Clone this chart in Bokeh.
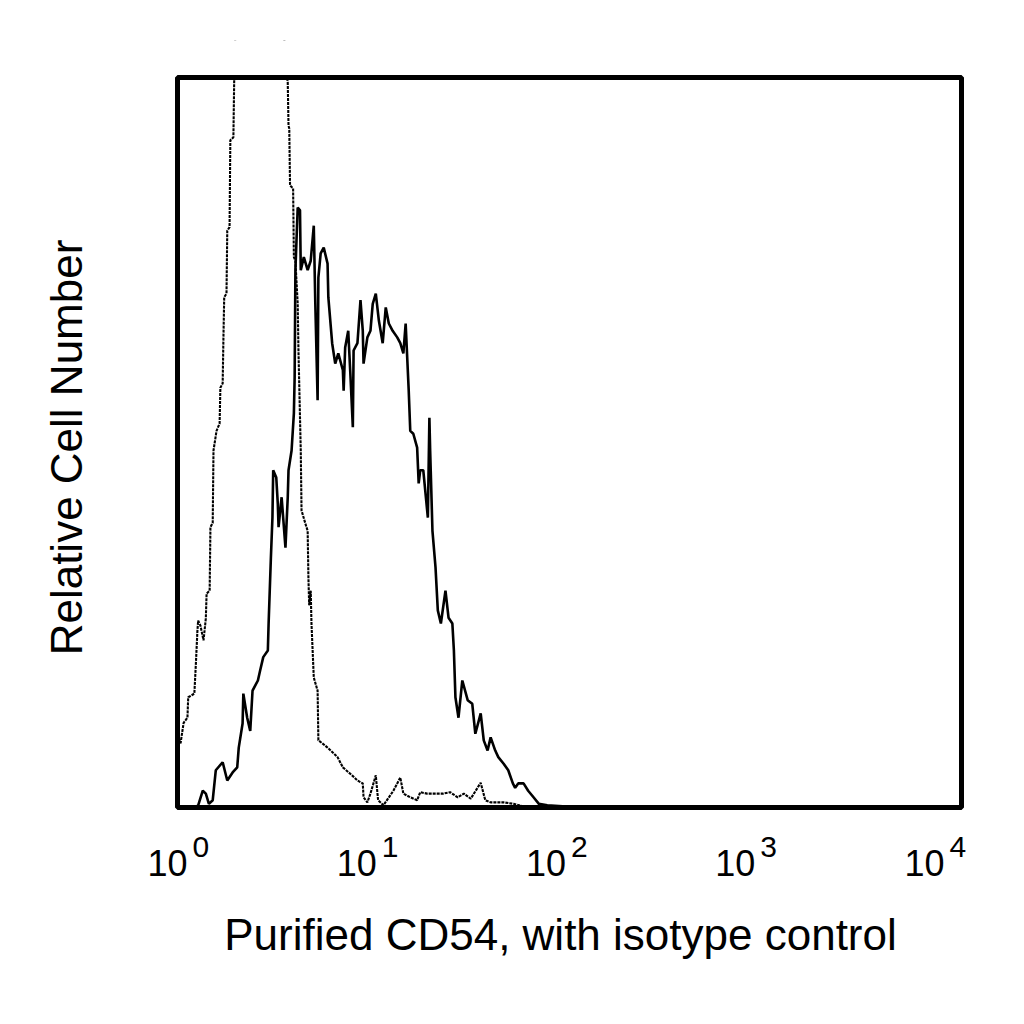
import numpy as np
from bokeh.plotting import figure
from bokeh.models import Range1d, BoxAnnotation
from bokeh.core.properties import value
from bokeh.embed import file_html
from bokeh.resources import INLINE

# histogram data: channel (0-1023 across the plot box) and relative count
isotype_channel = [0, 4, 8, 13, 14, 22, 24, 26, 27, 30, 34, 37, 38, 42, 43, 46, 47, 51, 55, 56,
                   59, 60, 61, 64, 65, 68, 69, 73, 74, 77, 85, 100, 120, 135, 141, 144, 145, 146,
                   147, 151, 152, 154, 157, 158, 161, 162, 167, 170, 171, 172, 174, 175, 178, 183,
                   184, 189, 196, 204, 209, 216, 228, 235, 242, 243, 248, 252, 259, 262, 269, 282,
                   291, 295, 304, 313, 317, 326, 340, 347, 356, 366, 374, 383, 396, 402, 409, 426,
                   439, 454, 474]
isotype_count = [9.9, 8.8, 11.6, 12.3, 15.1, 15.6, 19.7, 24.2, 25.6, 24.9, 22.9, 25.9, 29.3, 29.7,
                 38.4, 39.0, 48.9, 51.6, 52.6, 57.5, 58.1, 64.4, 69.9, 70.4, 79.0, 79.5, 91.4, 91.8,
                 99.3, 112, 125, 135, 132, 115, 102, 99.3, 93.4, 93.0, 85.2, 84.8, 75.4, 74.9, 69.0,
                 62.6, 48.9, 40.7, 38.9, 37.9, 31.5, 27.7, 29.7, 25.2, 17.8, 16.0, 9.2, 8.8, 8.2,
                 7.4, 6.9, 5.5, 4.4, 3.7, 3.3, 1.4, 0.7, 1.9, 4.4, 1.0, 0.3, 2.3, 4.1, 1.9, 1.4,
                 1.0, 2.1, 1.9, 1.9, 1.9, 2.1, 1.4, 1.9, 1.2, 3.4, 1.0, 0.7, 0.7, 0.5, 0.1, 0.0]

cd54_channel = [0, 24, 27, 33, 37, 41, 46, 50, 59, 65, 72, 78, 80, 85, 86, 91, 95, 98, 105, 108,
                112, 118, 119, 122, 124, 125, 129, 131, 132, 136, 141, 144, 145, 149, 152, 153,
                154, 157, 160, 161, 165, 170, 174, 178, 180, 183, 184, 187, 191, 196, 197, 202,
                206, 210, 216, 217, 219, 223, 226, 229, 230, 235, 239, 242, 243, 248, 252, 255,
                259, 263, 268, 272, 276, 281, 287, 291, 295, 298, 300, 302, 304, 308, 313, 315,
                317, 321, 327, 329, 330, 333, 337, 340, 344, 350, 354, 359, 361, 363, 367, 372,
                379, 385, 389, 396, 400, 405, 409, 415, 419, 426, 432, 438, 441, 445, 452, 458,
                465, 472, 483, 513, 552, 618, 1024]
cd54_count = [0.0, 0.1, 0.3, 2.3, 1.9, 0.5, 1.0, 5.1, 6.2, 3.7, 4.8, 5.5, 8.2, 11.5, 15.6, 12.3,
              10.5, 16.0, 17.4, 18.8, 20.6, 21.5, 25.2, 34.3, 39.7, 46.2, 45.2, 41.6, 38.4, 42.5,
              35.6, 42.5, 46.2, 48.9, 54.0, 58.9, 73.6, 82.2, 81.8, 73.6, 75.4, 73.6, 74.9, 79.7,
              69.0, 55.8, 72.6, 75.9, 76.7, 74.5, 69.9, 63.6, 60.8, 62.2, 59.9, 57.1, 63.0, 65.3,
              58.9, 52.1, 62.6, 63.6, 69.5, 65.3, 60.8, 64.4, 65.3, 69.0, 70.4, 66.7, 63.6, 68.5,
              66.3, 65.3, 64.4, 63.6, 62.2, 66.3, 61.7, 57.1, 51.6, 51.2, 49.3, 44.4, 46.2, 46.2,
              39.7, 53.4, 48.9, 37.9, 32.9, 27.0, 25.2, 29.7, 26.0, 25.2, 21.5, 15.1, 12.3, 17.4,
              14.7, 14.2, 10.1, 12.9, 9.2, 7.8, 9.6, 7.8, 6.9, 6.0, 5.1, 3.3, 2.7, 3.3, 3.3, 2.3,
              1.4, 0.5, 0.3, 0.1, 0.1, 0.0, 0.0]

# channel -> intensity calibration
CH_ZERO = 6.5
CH_PER_DECADE = 247.2
N_CHANNELS = 1024

decades = [0, 1, 2, 3, 4]
tick_base = ["10", "10", "10", "10", "10"]
tick_power = ["0", "1", "2", "3", "4"]
x_title = "Purified CD54, with isotype control"
y_title = "Relative Cell Number"

FONT = "Liberation Sans"
W = H = 1000
TOP_PAD = 40
# box of the histogram on the canvas (pixels)
BOX_L, BOX_R, BOX_T, BOX_B = 177, 961, 77, 807
Y_MAX = 100.0
ppc = (BOX_R - BOX_L) / N_CHANNELS      # pixels per channel
ppu = (BOX_B - BOX_T) / Y_MAX           # pixels per count unit


def to_intensity(ch):
    return 10 ** ((np.asarray(ch, dtype=float) - CH_ZERO) / CH_PER_DECADE)


def xd(px):
    return to_intensity((px - BOX_L) / ppc)


def yd(py):
    return (BOX_B - py) / ppu


X_MIN, X_MAX = to_intensity(0), to_intensity(N_CHANNELS)

# the frame spans (nearly) the whole canvas so the tick labels and titles can be drawn as text
p = figure(width=W, height=H, x_axis_type="log",
           x_range=Range1d(xd(0), xd(W)), y_range=Range1d(yd(H), yd(TOP_PAD)),
           x_axis_location=None, y_axis_location=None,
           output_backend="svg", toolbar_location=None, tools="",
           min_border=0, min_border_top=TOP_PAD)
p.outline_line_color = None
p.grid.grid_line_color = None
p.background_fill_color = "white"
p.border_fill_color = "white"

p.line(to_intensity(isotype_channel), isotype_count, line_color="black",
       line_width=2.1, line_dash="3 1")
p.line(to_intensity(cd54_channel), cd54_count, line_color="black", line_width=2.6)

# off-scale counts are cut at the top of the box (white quad drawn over the curves)
p.quad(left=[X_MIN], right=[X_MAX], bottom=[Y_MAX], top=[yd(0)],
       fill_color="white", line_color="white", line_width=2)
p.add_layout(BoxAnnotation(left=X_MIN, right=X_MAX, bottom=0, top=Y_MAX, fill_alpha=0,
                           line_color="black", line_width=5, line_alpha=1.0))

# log tick labels: 10 with a raised exponent
tick_x = [10.0 ** k for k in decades]
p.text(x=tick_x, y=[yd(862)] * len(tick_x), text=tick_base, text_align="right",
       text_baseline="alphabetic", x_offset=5, text_color="black",
       text_font=value(FONT), text_font_size=value("36px"))
p.text(x=tick_x, y=[yd(846)] * len(tick_x), text=tick_power, text_align="left",
       text_baseline="alphabetic", x_offset=10, text_color="black",
       text_font=value(FONT), text_font_size=value("30px"))

# axis titles
p.text(x=[xd(560)], y=[yd(934)], text=[x_title], text_align="center",
       text_baseline="alphabetic", text_color="black",
       text_font=value(FONT), text_font_size=value("44px"))
p.text(x=[xd(66)], y=[yd(447)], text=[y_title], angle=np.pi / 2, text_align="center",
       text_baseline="alphabetic", text_color="black",
       text_font=value(FONT), text_font_size=value("44px"))

open("out.html", "w").write(file_html(p, INLINE))
